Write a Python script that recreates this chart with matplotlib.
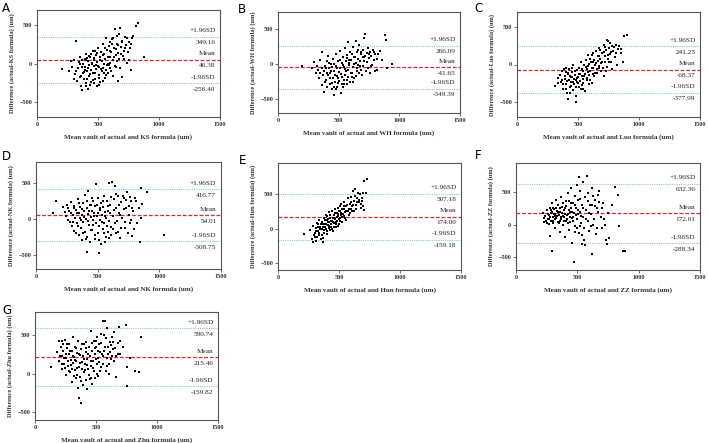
# Bland-Altman plots: actual vault vs. seven formulas

import matplotlib.pyplot as plt

letters = ["A", "B", "C", "D", "E", "F", "G"]
formulas = ["KS", "WH", "Luo", "NK", "Hun", "ZZ", "Zhu"]
upper_sd = [349.16, 266.09, 241.25, 416.77, 507.18, 632.36, 590.74]
mean_diff = [46.38, -41.65, -68.37, 54.01, 174.00, 172.01, 215.46]
lower_sd = [-256.40, -349.39, -377.99, -308.75, -159.18, -288.34, -159.82]
y_limits = [(-700, 700), (-700, 750), (-700, 700), (-700, 800), (-600, 950), (-700, 950), (-600, 800)]

A_pts = [(205, -70), (265, -100), (280, 30), (290, -40), (300, 50), (310, -140), (320, 290), (330, -230),
         (340, -60), (345, 20), (350, -180), (355, 90), (360, -290), (370, -350), (375, -120), (380, 0),
         (385, -200), (390, 60), (395, -50), (400, -260), (405, 130), (410, -100), (415, 30), (420, -340),
         (425, -170), (430, -20), (435, 80), (440, -240), (445, -80), (450, 10), (455, 170), (460, -130),
         (465, -30), (470, 50), (475, -200), (480, 110), (485, -70), (490, -300), (495, 20), (500, 200),
         (505, -150), (510, -40), (515, 80), (520, -240), (525, 150), (530, -100), (535, 30), (540, 250),
         (545, -60), (550, 120), (555, -190), (560, 60), (565, 340), (570, -20), (575, 180), (580, 0),
         (585, -120), (590, 230), (595, 90), (600, -60), (610, 150), (615, 320), (620, 40), (625, -160),
         (630, 200), (640, 450), (645, 110), (650, -40), (655, 260), (660, -230), (665, 140), (670, 380),
         (675, 60), (680, 460), (690, 220), (695, -180), (700, 300), (705, 100), (710, 170), (720, 350),
         (730, 240), (740, 10), (750, 280), (760, 200), (770, -90), (780, 330), (790, 360), (810, 490),
         (830, 530), (880, 80),
         (360, -160), (372, -40), (388, -110), (398, 40), (408, -200), (418, -60), (428, 100), (438, -140),
         (448, -10), (458, -220), (468, 70), (478, -120), (488, 140), (498, -30), (508, -190), (518, 40),
         (528, -70), (538, 110), (548, -130), (558, 200), (568, -90), (578, 90), (588, -20), (598, 160),
         (608, -100), (618, 250), (628, 80), (638, -30), (648, 190), (658, 30), (668, 240), (678, -60),
         (688, 120), (698, 280), (712, 60), (724, 200), (736, 330), (748, 150), (758, 40), (768, 260),
         (398, -300), (432, -280), (466, -260), (512, -280), (552, -10), (562, -150), (472, 170), (442, 120),
         (412, 70), (392, -80), (352, -10), (322, -100), (302, -200), (366, 40), (626, 330), (596, 280),
         (656, 360), (602, 10), (542, -230), (482, -20)]

B_pts = [(195, -30), (280, -60), (300, 30), (310, -120), (320, -30), (340, -200), (350, 60), (360, 170),
         (365, -300), (375, -400), (380, -100), (390, -20), (395, -230), (400, 40), (410, -160), (415, 120),
         (420, -60), (425, -280), (430, -130), (440, 10), (445, -350), (450, -200), (455, 80), (460, -90),
         (465, -440), (470, -250), (475, 150), (480, -30), (485, -170), (490, -330), (495, 50), (500, -110),
         (505, -240), (510, 190), (515, -60), (520, -420), (525, 20), (530, -180), (535, 100), (540, -290),
         (545, -40), (550, 230), (555, -150), (560, 40), (565, -220), (570, 130), (575, -80), (580, 320),
         (585, -10), (590, -260), (595, 170), (600, 60), (610, -130), (615, 250), (620, -40), (625, 110),
         (630, -200), (640, 330), (645, 20), (650, 180), (655, -90), (660, 80), (670, 270), (675, -20),
         (680, 140), (690, -150), (700, 210), (705, 50), (710, 380), (715, 120), (720, 430), (730, 160),
         (740, -60), (745, 240), (750, 90), (760, 180), (770, -30), (780, 200), (790, 60), (800, 150),
         (820, -80), (840, 190), (860, 60), (880, 420), (890, 350), (900, -50), (940, 10),
         (372, -160), (384, -250), (396, -60), (406, -320), (418, 20), (428, -200), (436, -100), (448, -270),
         (458, 0), (468, -150), (478, -350), (488, -60), (498, -200), (508, 60), (518, -140), (528, -280),
         (538, -10), (548, -230), (558, -90), (568, 90), (578, -190), (588, 20), (598, -120), (608, 150),
         (618, -260), (628, 0), (638, 110), (648, -60), (658, 210), (668, -120), (678, 40), (688, 170),
         (698, -20), (712, 100), (724, -100), (736, 30), (748, 150), (758, -130), (768, 120), (778, -10),
         (788, 170), (798, -100), (812, 80), (828, 140), (350, -130), (330, -80), (360, -50), (402, -120),
         (442, -40), (462, -330), (492, -270), (532, -320), (552, -70), (572, -290), (582, 60), (612, -180),
         (642, -170), (662, -10), (682, -80), (702, 110)]

C_pts = [(310, -280), (340, -180), (360, -230), (370, -90), (380, -320), (390, -150), (400, -40), (405, -260),
         (410, -380), (415, -120), (420, -460), (425, -200), (430, -60), (435, -300), (440, -170), (445, -230),
         (450, -100), (455, -340), (460, -10), (465, -190), (470, -260), (475, -140), (480, -420), (485, -500),
         (490, -70), (495, -230), (500, -170), (505, -300), (510, -40), (515, -120), (520, -220), (525, 40),
         (530, -150), (535, -270), (540, -80), (545, -190), (550, 0), (555, -120), (560, -350), (565, 60),
         (570, -60), (575, -210), (580, 120), (585, -20), (590, -140), (595, 80), (600, -90), (610, 30),
         (615, -250), (620, 150), (625, -40), (630, 60), (640, -110), (645, 180), (650, 20), (655, -60),
         (660, 110), (670, 220), (675, -20), (680, 80), (690, -80), (695, 150), (700, 40), (710, 260),
         (715, -150), (720, 110), (730, 190), (735, 330), (740, -30), (745, 70), (750, 220), (760, 140),
         (770, 40), (780, 250), (790, 180), (800, 100), (810, 260), (820, -10), (830, 200), (850, 150),
         (870, 40), (880, 380), (900, 390),
         (365, -200), (378, -260), (392, -190), (402, -320), (412, -220), (422, -110), (432, -380), (442, -280),
         (452, -160), (462, -230), (472, -90), (482, -300), (492, -180), (502, -250), (512, -130), (522, -330),
         (532, -60), (542, -240), (552, -150), (562, -30), (572, -180), (582, -100), (592, 10), (602, -200),
         (612, -50), (622, 40), (632, -150), (642, 0), (652, -110), (662, 50), (672, -40), (682, 190),
         (692, 20), (702, -50), (712, 170), (722, 40), (732, -80), (742, 120), (752, 30), (762, 280),
         (772, 160), (782, -60), (792, 230), (812, 150), (832, 250), (852, 210), (742, 310), (722, 230),
         (612, 130), (592, -260), (542, -330), (482, -200), (452, -50), (432, -150), (402, -100), (382, -60),
         (352, -140), (332, -250), (622, -120), (672, 110)]

D_pts = [(140, 80), (160, 250), (220, 170), (240, 50), (250, 200), (260, -20), (270, 120), (280, 240),
         (290, -100), (300, 60), (305, 190), (310, -170), (320, 10), (325, 130), (330, -60), (340, 280),
         (345, 90), (350, -230), (355, 20), (360, 170), (365, -120), (370, -300), (375, 60), (380, 220),
         (385, -40), (390, 110), (395, -180), (400, 340), (405, 0), (410, 150), (415, -250), (416, -460),
         (420, 70), (425, 400), (430, -90), (435, 200), (440, -320), (445, 30), (450, 120), (455, -150),
         (460, 260), (465, -20), (470, 80), (475, -280), (480, 180), (485, -60), (490, 490), (495, 40),
         (500, -200), (505, 300), (508, -480), (510, -100), (515, 130), (520, -10), (525, 230), (530, -350),
         (535, 60), (540, -140), (545, 170), (550, 330), (555, -60), (560, 100), (565, -250), (570, 20),
         (575, 260), (580, -180), (585, 120), (590, 510), (595, -30), (600, 200), (610, -110), (620, 520),
         (625, 50), (630, 280), (640, 460), (645, -200), (650, 150), (660, -30), (665, 330), (670, 80),
         (680, -260), (690, 240), (700, 20), (710, 300), (720, -120), (730, 160), (740, 380), (750, 60),
         (760, -50), (770, 250), (780, -240), (790, 120), (800, 300), (840, -320), (850, 430), (850, 10),
         (860, 210), (900, 380), (1040, -220),
         (302, -40), (312, 160), (322, -200), (332, 80), (342, -100), (352, 220), (362, -20), (372, 140),
         (382, -200), (392, 30), (402, -280), (412, 260), (422, -30), (432, 120), (442, -160), (452, 300),
         (462, -80), (472, 40), (482, -230), (492, 200), (502, 90), (512, -300), (522, 160), (532, -40),
         (542, 250), (552, -190), (562, 40), (572, -100), (582, 190), (592, -260), (602, 80), (612, 310),
         (622, -140), (632, 130), (642, -60), (652, 350), (662, -180), (672, 200), (682, 60), (692, -120),
         (702, 320), (712, 140), (722, -40), (732, 270), (742, -200), (752, 190), (762, 310), (772, -10),
         (782, 160), (792, -140), (812, 260), (822, -60), (832, 150), (272, -40), (262, 160), (232, 100),
         (282, 80), (442, 200), (562, -320), (612, -220)]

E_pts = [(213, -82), (260, -20), (280, -150), (285, -192), (290, 40), (300, -60), (305, -120), (310, 10),
         (315, -180), (320, 80), (325, -40), (330, 30), (335, -100), (340, 120), (345, -10), (350, 60),
         (355, -150), (360, 100), (365, -190), (370, 20), (375, 150), (380, -60), (385, 70), (390, 200),
         (395, 0), (400, 120), (405, -80), (410, 50), (415, 240), (420, 90), (425, -20), (430, 160),
         (435, 30), (440, 260), (445, 110), (450, -40), (455, 190), (460, 80), (465, 280), (470, 140),
         (475, 30), (480, 220), (485, 110), (490, 300), (495, 180), (500, 60), (505, 250), (510, 150),
         (515, 350), (520, 200), (525, 100), (530, 280), (540, 180), (545, 380), (550, 240), (555, 130),
         (560, 320), (570, 260), (575, 440), (580, 200), (590, 360), (595, 280), (600, 460), (610, 330),
         (615, 540), (620, 250), (625, 400), (630, 580), (640, 340), (650, 440), (660, 380), (670, 500),
         (680, 300), (690, 450), (700, 520), (705, 270), (720, 510), (705, 688), (731, 712),
         (295, -100), (308, -30), (318, -120), (328, 60), (338, -60), (348, 20), (358, -100), (368, 70),
         (378, -20), (388, 130), (398, -40), (408, 90), (418, 10), (428, 200), (438, 70), (448, 160),
         (458, 20), (468, 220), (478, 100), (488, 40), (498, 260), (508, 110), (518, 230), (528, 170),
         (538, 290), (548, 150), (558, 250), (568, 340), (578, 280), (588, 220), (598, 390), (608, 260),
         (618, 340), (628, 470), (638, 280), (648, 380), (658, 510), (668, 420), (678, 360), (688, 400),
         (698, 330), (362, 0), (372, -130), (382, 30), (392, 60), (402, 180), (412, 140), (422, 40),
         (432, 110), (442, -10), (452, 100), (462, 160), (472, 60), (482, 170), (492, 210), (502, 140),
         (512, 320), (522, 290), (532, 210), (542, 330)]

F_pts = [(220, 180), (230, 40), (240, 130), (250, 220), (255, 20), (260, 90), (270, 150), (275, -170),
         (280, 250), (285, 60), (290, 190), (295, 330), (297, -405), (300, 110), (305, 20), (310, 240),
         (315, 160), (320, -60), (325, 380), (330, 100), (335, 210), (340, 40), (345, 300), (350, 150),
         (355, -120), (360, 250), (365, 80), (370, 430), (375, 180), (380, -10), (385, 330), (390, 120),
         (395, 220), (400, -190), (405, 60), (410, 290), (415, 150), (420, 480), (425, 30), (430, 370),
         (435, -80), (440, 200), (445, 260), (450, 560), (455, 100), (460, -280), (465, 340), (470, -579),
         (475, 180), (480, 440), (485, -20), (490, 250), (495, 610), (500, 90), (505, 380), (511, 737),
         (515, -130), (520, 200), (525, 520), (530, 30), (535, -300), (540, 310), (545, 650), (550, 120),
         (555, -50), (560, 420), (565, -320), (570, 220), (578, 742), (585, 50), (590, 480), (595, -100),
         (600, 300), (610, 160), (620, 570), (622, -458), (630, 0), (640, 380), (650, -150), (660, 250),
         (670, 460), (680, 520), (690, 120), (700, -60), (710, 330), (722, -10), (730, -230), (743, -300),
         (750, 180), (762, -210), (780, 310), (808, 579), (830, 463), (843, -26), (870, -405), (885, -400),
         (232, 100), (246, 60), (258, 160), (268, 10), (278, 120), (288, 220), (298, 50), (308, 170),
         (318, 90), (328, 250), (338, 140), (348, 20), (358, 190), (368, 110), (378, 270), (388, 50),
         (398, 160), (408, 360), (418, 80), (428, 230), (438, 120), (448, 330), (458, 200), (468, 60),
         (478, 300), (488, 150), (498, -60), (508, 230), (518, 400), (528, 130), (538, -160), (548, 260),
         (558, -230), (568, 90), (588, 360), (598, 180), (608, -20), (618, 300), (628, 440), (638, 90),
         (648, 280), (658, -50), (668, 200), (678, 350), (698, 250), (718, 90), (268, 80), (282, 180),
         (302, 260), (322, 130), (342, 200), (362, 60), (382, 140), (402, 250), (422, 170), (442, 40),
         (462, 120), (482, -120), (502, 170), (522, -20)]

G_pts = [(135, 90), (180, 280), (195, 420), (200, 160), (210, 350), (220, 230), (225, 60), (230, 300),
         (240, 130), (245, 440), (250, 200), (255, -20), (260, 330), (270, 100), (275, 250), (280, 380),
         (290, 20), (295, 180), (300, 290), (305, -110), (310, 140), (315, 480), (320, 220), (325, 50),
         (330, 350), (335, -60), (340, 170), (345, 270), (350, -180), (355, 420), (357, -317), (360, 90),
         (365, 240), (370, -40), (378, -383), (380, 320), (385, 150), (390, -140), (395, 230), (400, 20),
         (405, 390), (410, 120), (415, -80), (420, 280), (425, 190), (430, -200), (435, 60), (440, 350),
         (445, -20), (450, 230), (455, 560), (460, 100), (465, -130), (470, 300), (475, 170), (480, 420),
         (485, 40), (490, 250), (495, -60), (500, 340), (505, 130), (510, 470), (515, 210), (520, -30),
         (525, 380), (530, 280), (540, 90), (545, 520), (554, 683), (560, 230), (570, 680), (575, 350),
         (580, 40), (590, 590), (600, 260), (610, -10), (615, 410), (620, 190), (630, 480), (640, 320),
         (650, 540), (660, 230), (668, -39), (680, 400), (690, 600), (700, 260), (720, 350), (743, 630),
         (754, -165), (757, 83), (780, 200), (816, 39), (851, 17), (865, 474),
         (205, 230), (218, 120), (228, 380), (238, 200), (248, 80), (258, 260), (268, 160), (278, 40),
         (288, 300), (298, 110), (308, 230), (318, -30), (328, 180), (338, 330), (348, 80), (358, 260),
         (368, 140), (378, -100), (388, 380), (398, 190), (408, 50), (418, 330), (428, 110), (438, 250),
         (448, -70), (458, 170), (468, 400), (478, 80), (488, 330), (498, 190), (508, -10), (518, 290),
         (528, 150), (538, 400), (548, 250), (558, 120), (568, 300), (578, 460), (588, 200), (598, 350),
         (608, 130), (618, 280), (628, 230), (638, 410), (648, 160), (658, 330), (678, 260), (698, 420),
         (222, 420), (262, 390), (302, 60), (342, -20), (382, 60), (422, 410), (462, -60), (502, 420),
         (532, 40), (562, 500), (592, 100), (622, 370)]

points = [A_pts, B_pts, C_pts, D_pts, E_pts, F_pts, G_pts]

# axes boxes in pixels: left, right, top, bottom
boxes = [(37, 220, 10, 117), (278, 460, 12, 113), (517, 700, 12, 117),
         (36, 221, 162, 269), (278, 461, 163, 270), (516, 700, 163, 270),
         (35, 218, 312, 420)]
letter_pos = [(2, 2), (238, 3), (474, 2), (2, 150), (239, 154), (475, 149), (2, 304)]

W, H = 708, 443
fig = plt.figure(figsize=(W / 100, H / 100), dpi=100)
serif = "Liberation Serif"
spine_col = "#555555"

for i in range(7):
    l, r, t, b = boxes[i]
    ax = fig.add_axes([l / W, 1 - b / H, (r - l) / W, (b - t) / H])
    xs = [p[0] for p in points[i]]
    ys = [p[1] for p in points[i]]
    ax.scatter(xs, ys, s=2.0, marker="s", color="black", linewidths=0, zorder=3)

    ax.axhline(mean_diff[i], color="#d42a2a", lw=0.9, ls=(0, (3, 1.5)), zorder=2)
    ax.axhline(upper_sd[i], color="#8cc4ee", lw=0.8, ls=(0, (1, 1)), zorder=2)
    ax.axhline(lower_sd[i], color="#8cc4ee", lw=0.8, ls=(0, (1, 1)), zorder=2)

    ax.set_xlim(0, 1500)
    ax.set_ylim(*y_limits[i])
    ax.set_xticks([0, 500, 1000, 1500])
    ax.set_yticks([-500, 0, 500])
    ax.tick_params(length=2, width=0.6, color=spine_col, pad=1.5)
    for lab in ax.get_xticklabels() + ax.get_yticklabels():
        lab.set_fontfamily(serif)
        lab.set_fontweight("bold")
        lab.set_fontsize(4.5)
        lab.set_color("#333333")
    for sp in ax.spines.values():
        sp.set_color(spine_col)
        sp.set_linewidth(0.8)

    ax.set_xlabel(f"Mean vault of actual and {formulas[i]} formula (um)",
                  fontfamily=serif, fontweight="bold", fontsize=5, color="#333333", labelpad=5)
    ax.set_ylabel(f"Difference (actual-{formulas[i]} formula) (um)",
                  fontfamily=serif, fontweight="bold", fontsize=4.6, color="#333333", labelpad=3)

    labels = [("+1.96SD", f"{upper_sd[i]:.2f}", upper_sd[i]),
              ("Mean", f"{mean_diff[i]:.2f}", mean_diff[i]),
              ("-1.96SD", f"{lower_sd[i]:.2f}", lower_sd[i])]
    for top, bottom, yv in labels:
        for txt, dy in [(top, 4.3), (bottom, -4.3)]:
            ax.annotate(txt, xy=(0.975, yv), xycoords=("axes fraction", "data"),
                        xytext=(0, dy), textcoords="offset points",
                        ha="right", va="center", fontsize=5.2, fontfamily=serif,
                        color="#222222")

    lx, ly = letter_pos[i]
    fig.text(lx / W, 1 - ly / H, letters[i], fontsize=8.5, fontfamily="DejaVu Sans",
             ha="left", va="top")

fig.savefig("out.png", dpi=100)
